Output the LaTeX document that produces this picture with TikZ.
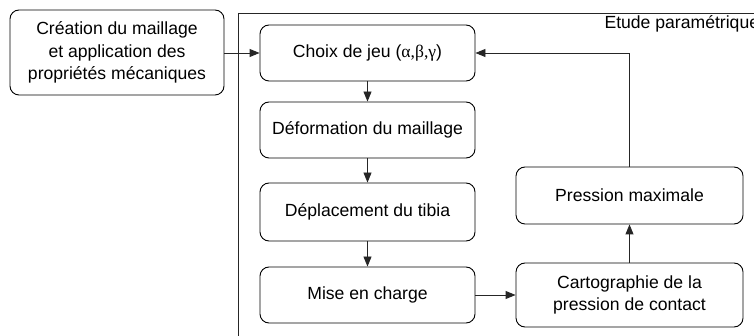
\documentclass[tikz,border=0pt]{standalone}
\usepackage{fontspec}
\setmainfont{Liberation Sans}
\newfontfamily\greekfont{Liberation Serif}
\usetikzlibrary{arrows.meta}
\begin{document}
\begin{tikzpicture}[x=1pt,y=-1pt,
  box/.style={draw=black,line width=0.9pt,rounded corners=9pt,inner sep=0pt,align=center,
    font=\fontsize{17.6}{22.5}\selectfont},
  arr/.style={draw=black!85,line width=0.9pt,-{Triangle[length=10pt,width=8pt]}},
  frame/.style={draw=black!85,line width=0.9pt}]
\useasboundingbox (0,0) rectangle (754,336);
\clip (0,0) rectangle (754,336);
\fill[white] (0,0) rectangle (754,336);
\draw[frame] (238,13) -- (238,345) (238,13) -- (765,13);
\node[anchor=base west,font=\fontsize{17.6}{22.5}\selectfont] (title) at (601,29) {Etude paramétrique};
\node[box,minimum width=214pt,minimum height=85pt] (mesh) at (117,52.5)
  {Création du maillage\\et application des\\propriétés mécaniques};
\node[box,minimum width=215pt,minimum height=56pt] (choix) at (367.5,53)
  {Choix de jeu ({\greekfont α,β,γ})};
\node[box,minimum width=215pt,minimum height=56pt] (deform) at (367.5,130)
  {Déformation du maillage};
\node[box,minimum width=215pt,minimum height=58pt] (depl) at (367.5,212)
  {Déplacement du tibia};
\node[box,minimum width=215pt,minimum height=56pt] (mise) at (367.5,295)
  {Mise en charge};
\node[box,minimum width=227pt,minimum height=64pt] (carto) at (629.5,295)
  {Cartographie de la\\pression de contact};
\node[box,minimum width=227pt,minimum height=57pt] (pmax) at (629.5,195.5)
  {Pression maximale};
\draw[arr] (mesh.east |- choix.west) -- (choix.west);
\draw[arr] (choix) -- (deform);
\draw[arr] (deform) -- (depl);
\draw[arr] (depl) -- (mise);
\draw[arr] (mise) -- (carto);
\draw[arr] (carto) -- (pmax);
\draw[arr] (pmax.north) |- (choix.east);
\end{tikzpicture}
\end{document}
